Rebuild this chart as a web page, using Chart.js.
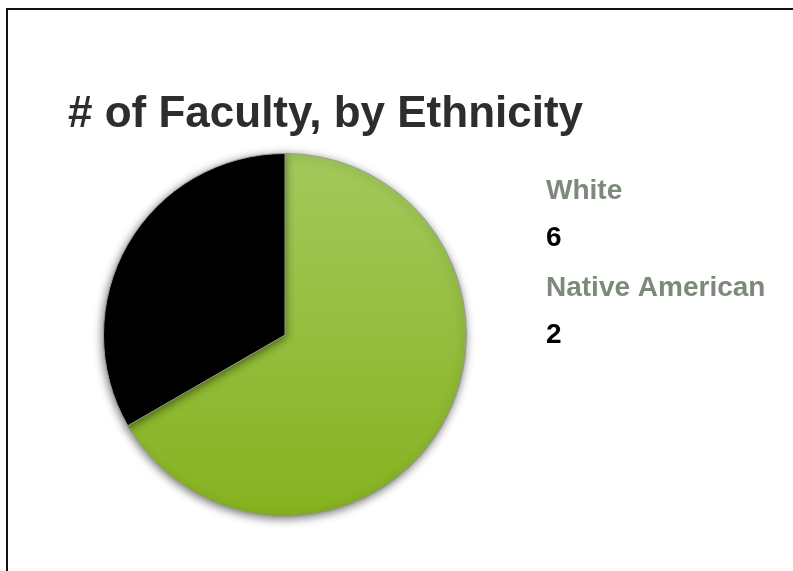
<!DOCTYPE html>
<html>
<head>
<meta charset="utf-8">
<script src="https://cdn.jsdelivr.net/npm/chart.js@4.4.1/dist/chart.umd.min.js"></script>
<style>
  html, body { margin: 0; padding: 0; background: #fff; }
  #wrap { width: 793px; height: 571px; position: relative; }
</style>
</head>
<body>
<div id="wrap"><canvas id="pie" width="793" height="571"></canvas></div>
<script>
const titleText = '# of Faculty, by Ethnicity';
const categories = ['White', 'Native American'];
const counts = ['6', '2'];
// slice sizes (about 2/3 and 1/3)
const sliceShares = [2, 1];
const sliceColors = ['green', '#000000'];

function sliceFill(context) {
    const base = sliceColors[context.dataIndex];
    if (base !== 'green') return base;
    const area = context.chart.chartArea;
    if (!area) return '#94bf2f';
    const g = context.chart.ctx.createLinearGradient(0, area.top, 0, area.bottom);
    g.addColorStop(0, '#a3c95c');
    g.addColorStop(1, '#86b21f');
    return g;
}

const decorPlugin = {
    id: 'decor',
    beforeDraw(chart) {
        const ctx = chart.ctx;
        ctx.save();
        ctx.fillStyle = '#fff';
        ctx.fillRect(0, 0, chart.width, chart.height);
        ctx.strokeStyle = '#111';
        ctx.lineWidth = 2;
        ctx.strokeRect(7, 9, 800, 600);
        ctx.restore();
    },
    beforeDatasetDraw(chart) {
        const ctx = chart.ctx;
        ctx.save();
        ctx.shadowColor = 'rgba(0,0,0,0.5)';
        ctx.shadowBlur = 9;
        ctx.shadowOffsetX = -1;
        ctx.shadowOffsetY = 2;
    },
    afterDatasetDraw(chart) {
        chart.ctx.restore();
    },
    afterDraw(chart) {
        const ctx = chart.ctx;
        ctx.save();
        ctx.textBaseline = 'alphabetic';
        ctx.textAlign = 'left';
        ctx.fillStyle = '#2b2e2a';
        ctx.font = 'bold 44px "Liberation Sans", Arial, sans-serif';
        ctx.fillText(titleText, 68, 127);

        ctx.font = 'bold 28px "Liberation Sans", Arial, sans-serif';
        let y = 199;
        categories.forEach((name, i) => {
            ctx.fillStyle = '#7d897b';
            ctx.fillText(name, 546, y);
            ctx.fillStyle = '#000';
            ctx.fillText(counts[i], 546, y + 47);
            y += 97;
        });
        ctx.restore();
    }
};

new Chart(document.getElementById('pie'), {
    type: 'pie',
    data: {
        labels: categories,
        datasets: [{
            data: sliceShares,
            backgroundColor: sliceFill,
            borderColor: '#9a9a9a',
            borderWidth: 1
        }]
    },
    options: {
        responsive: false,
        animation: false,
        layout: { padding: { left: 103, right: 326, top: 153, bottom: 54 } },
        plugins: {
            legend: { display: false },
            tooltip: { enabled: false },
            title: { display: false }
        }
    },
    plugins: [decorPlugin]
});
</script>
</body>
</html>
